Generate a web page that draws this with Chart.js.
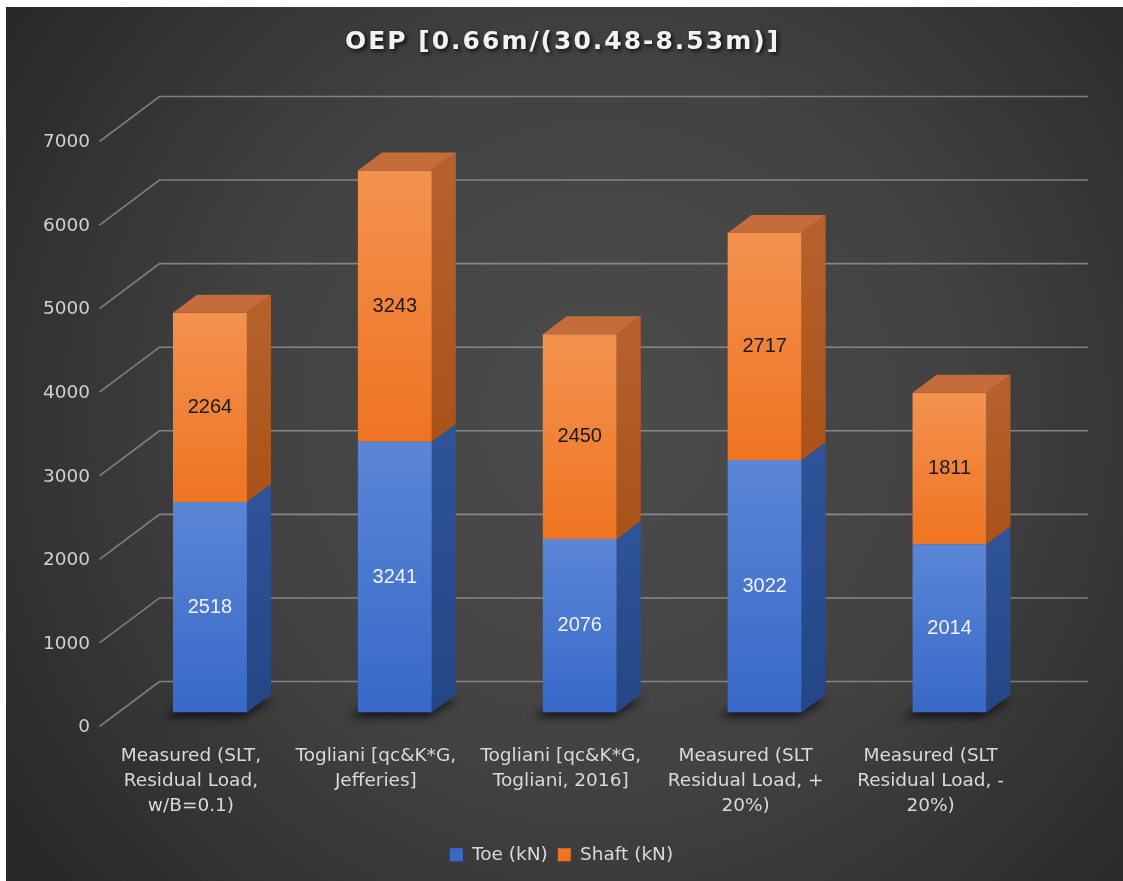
<!DOCTYPE html>
<html>
<head>
<meta charset="utf-8">
<script src="https://cdn.jsdelivr.net/npm/chart.js@4.4.1/dist/chart.umd.min.js"></script>
<style>
  html, body { margin: 0; padding: 0; background: #ffffff; }
  #wrap { width: 1123px; height: 881px; }
  canvas { display: block; }
</style>
</head>
<body>
<div id="wrap"><canvas id="chart" width="1123" height="881"></canvas></div>
<script>
// ---- chart data ----
const chartTitle = 'OEP [0.66m/(30.48-8.53m)]';
const categories = [
  ['Measured (SLT,', 'Residual Load,', 'w/B=0.1)'],
  ['Togliani [qc&K*G,', 'Jefferies]'],
  ['Togliani [qc&K*G,', 'Togliani, 2016]'],
  ['Measured (SLT', 'Residual Load, +', '20%)'],
  ['Measured (SLT', 'Residual Load, -', '20%)']
];
const seriesNames = ['Toe (kN)', 'Shaft (kN)'];
const toeValues = [2518, 3241, 2076, 3022, 2014];
const shaftValues = [2264, 3243, 2450, 2717, 1811];
const yTickValues = [0, 1000, 2000, 3000, 4000, 5000, 6000, 7000];

// ---- styling ----
const FONT = '"DejaVu Sans", Verdana, sans-serif';
const LABEL_FONT = '"Liberation Sans", Arial, sans-serif';
const BAR_DX = 24, BAR_DY = 18;          // bar depth (oblique projection)
const BACK_DX = 42, BACK_DY = 31;        // back wall relative to bar front plane
const FRONT_DX = -18, FRONT_DY = 14;     // front edge of the floor / side wall
const palette = [
  { solid: '#4472c4', top: '#5b86d6', bottom: '#3869c9', side: ['#2e5398', '#244685'], cap: '#3a64b3', text: '#f2f2f2' },
  { solid: '#ed7d31', top: '#f3924f', bottom: '#ee7422', side: ['#b6612c', '#a9521a'], cap: '#c46c3a', text: '#1a1a1a' }
];
const seriesValues = [toeValues, shaftValues];

function segmentRange(datasetIndex, i) {
  const lo = datasetIndex === 0 ? 0 : toeValues[i];
  return [lo, lo + seriesValues[datasetIndex][i]];
}

function frontFill(datasetIndex) {
  return (c) => {
    const p = palette[datasetIndex];
    if (c.type !== 'data' || !c.chart.chartArea) return p.solid;
    const ys = c.chart.scales.y;
    const [lo, hi] = segmentRange(datasetIndex, c.dataIndex);
    const g = c.chart.ctx.createLinearGradient(0, ys.getPixelForValue(hi), 0, ys.getPixelForValue(lo));
    g.addColorStop(0, p.top);
    g.addColorStop(1, p.bottom);
    return g;
  };
}

// Background, title, walls, bar depth faces and value labels
const scene3d = {
  id: 'scene3d',
  beforeDraw(chart) {
    const { ctx, width, height } = chart;
    ctx.save();
    ctx.fillStyle = '#ffffff';
    ctx.fillRect(0, 0, width, height);
    const bg = ctx.createRadialGradient(600, 420, 0, 600, 420, 720);
    bg.addColorStop(0, '#4c4c4c');
    bg.addColorStop(0.5, '#424242');
    bg.addColorStop(1, '#282828');
    ctx.fillStyle = bg;
    ctx.fillRect(6, 7, width - 6, height - 7);

    ctx.font = 'bold 25px ' + FONT;
    ctx.letterSpacing = '2px';
    ctx.textAlign = 'center';
    ctx.textBaseline = 'middle';
    ctx.shadowColor = 'rgba(0,0,0,0.8)';
    ctx.shadowBlur = 4;
    ctx.shadowOffsetX = 2;
    ctx.shadowOffsetY = 2;
    ctx.fillStyle = '#f2f2f2';
    ctx.fillText(chartTitle, width / 2 + 1, 42);
    ctx.restore();
  },
  beforeDatasetsDraw(chart) {
    const { ctx, chartArea } = chart;
    const ys = chart.scales.y;
    ctx.save();
    // back wall and side wall gridlines
    ctx.strokeStyle = 'rgba(200,200,200,0.5)';
    ctx.lineWidth = 1.6;
    ys.ticks.forEach(t => {
      const y = ys.getPixelForValue(t.value);
      ctx.beginPath();
      ctx.moveTo(chartArea.left + FRONT_DX, y + FRONT_DY);
      ctx.lineTo(chartArea.left + BACK_DX, y - BACK_DY);
      ctx.lineTo(chartArea.right + 46, y - BACK_DY);
      ctx.stroke();
    });
    // soft contact shadows under the columns
    ctx.filter = 'blur(4px)';
    ctx.fillStyle = 'rgba(0,0,0,0.65)';
    chart.getDatasetMeta(0).data.forEach(el => {
      const { x, base, width } = el.getProps(['x', 'base', 'width'], true);
      const l = x - width / 2 - 9, r = x + width / 2 - 4, b = base + 5;
      ctx.beginPath();
      ctx.moveTo(l, b);
      ctx.lineTo(r, b);
      ctx.lineTo(r + BAR_DX + 6, b - BAR_DY);
      ctx.lineTo(l + BAR_DX, b - BAR_DY);
      ctx.closePath();
      ctx.fill();
    });
    ctx.restore();
  },
  afterDatasetsDraw(chart) {
    const { ctx } = chart;
    ctx.save();
    [0, 1].forEach(di => {
      const p = palette[di];
      chart.getDatasetMeta(di).data.forEach(el => {
        const { x, y, base, width } = el.getProps(['x', 'y', 'base', 'width'], true);
        const l = x - width / 2, r = x + width / 2;
        const top = Math.min(y, base), bot = Math.max(y, base);
        const sg = ctx.createLinearGradient(0, top, 0, bot);
        sg.addColorStop(0, p.side[0]);
        sg.addColorStop(1, p.side[1]);
        ctx.fillStyle = sg;
        ctx.beginPath();
        ctx.moveTo(r, bot);
        ctx.lineTo(r, top);
        ctx.lineTo(r + BAR_DX, top - BAR_DY);
        ctx.lineTo(r + BAR_DX, bot - BAR_DY);
        ctx.closePath();
        ctx.fill();
        if (di === 1) {
          ctx.fillStyle = p.cap;
          ctx.beginPath();
          ctx.moveTo(l, top);
          ctx.lineTo(l + BAR_DX, top - BAR_DY);
          ctx.lineTo(r + BAR_DX, top - BAR_DY);
          ctx.lineTo(r, top);
          ctx.closePath();
          ctx.fill();
        }
      });
    });
    // value labels centred on each segment
    ctx.font = '20px ' + LABEL_FONT;
    ctx.textAlign = 'center';
    ctx.textBaseline = 'middle';
    [0, 1].forEach(di => {
      ctx.fillStyle = palette[di].text;
      chart.getDatasetMeta(di).data.forEach((el, i) => {
        const { x, y, base } = el.getProps(['x', 'y', 'base'], true);
        ctx.fillText(String(seriesValues[di][i]), x, (y + base) / 2);
      });
    });
    ctx.restore();
  }
};

new Chart(document.getElementById('chart'), {
  type: 'bar',
  data: {
    labels: categories,
    datasets: [
      { label: seriesNames[0], data: toeValues, backgroundColor: frontFill(0), borderWidth: 0,
        barPercentage: 0.4, categoryPercentage: 1 },
      { label: seriesNames[1], data: shaftValues, backgroundColor: frontFill(1), borderWidth: 0,
        barPercentage: 0.4, categoryPercentage: 1 }
    ]
  },
  options: {
    responsive: false,
    animation: false,
    devicePixelRatio: 1,
    layout: { padding: { top: 127.5, left: 0, right: 0, bottom: 7 } },
    plugins: {
      title: { display: false },
      tooltip: { enabled: false },
      legend: {
        position: 'bottom',
        labels: {
          color: '#d9d9d9',
          font: { family: FONT, size: 18.5 },
          boxWidth: 13,
          boxHeight: 13,
          padding: 10
        }
      }
    },
    scales: {
      x: {
        stacked: true,
        grid: { display: false, drawTicks: false },
        border: { display: false },
        ticks: {
          color: '#d9d9d9',
          font: { family: FONT, size: 18.5, lineHeight: '25px' },
          padding: 31.5,
          labelOffset: -19,
          maxRotation: 0,
          autoSkip: false
        },
        afterFit: s => { s.height = 123; }
      },
      y: {
        stacked: true,
        min: 0,
        max: 7000,
        grid: { display: false, drawTicks: false },
        border: { display: false },
        afterBuildTicks: s => { s.ticks = yTickValues.map(v => ({ value: v })); },
        ticks: {
          color: '#d0d0d0',
          font: { family: FONT, size: 18.5 },
          padding: 27.5,
          labelOffset: 15,
          callback: v => String(v)
        },
        afterFit: s => { s.width = 117.5; }
      },
      yRight: {
        position: 'right',
        display: true,
        grid: { display: false, drawTicks: false },
        border: { display: false },
        ticks: { display: false },
        afterFit: s => { s.width = 81; }
      }
    }
  },
  plugins: [scene3d]
});
</script>
</body>
</html>
